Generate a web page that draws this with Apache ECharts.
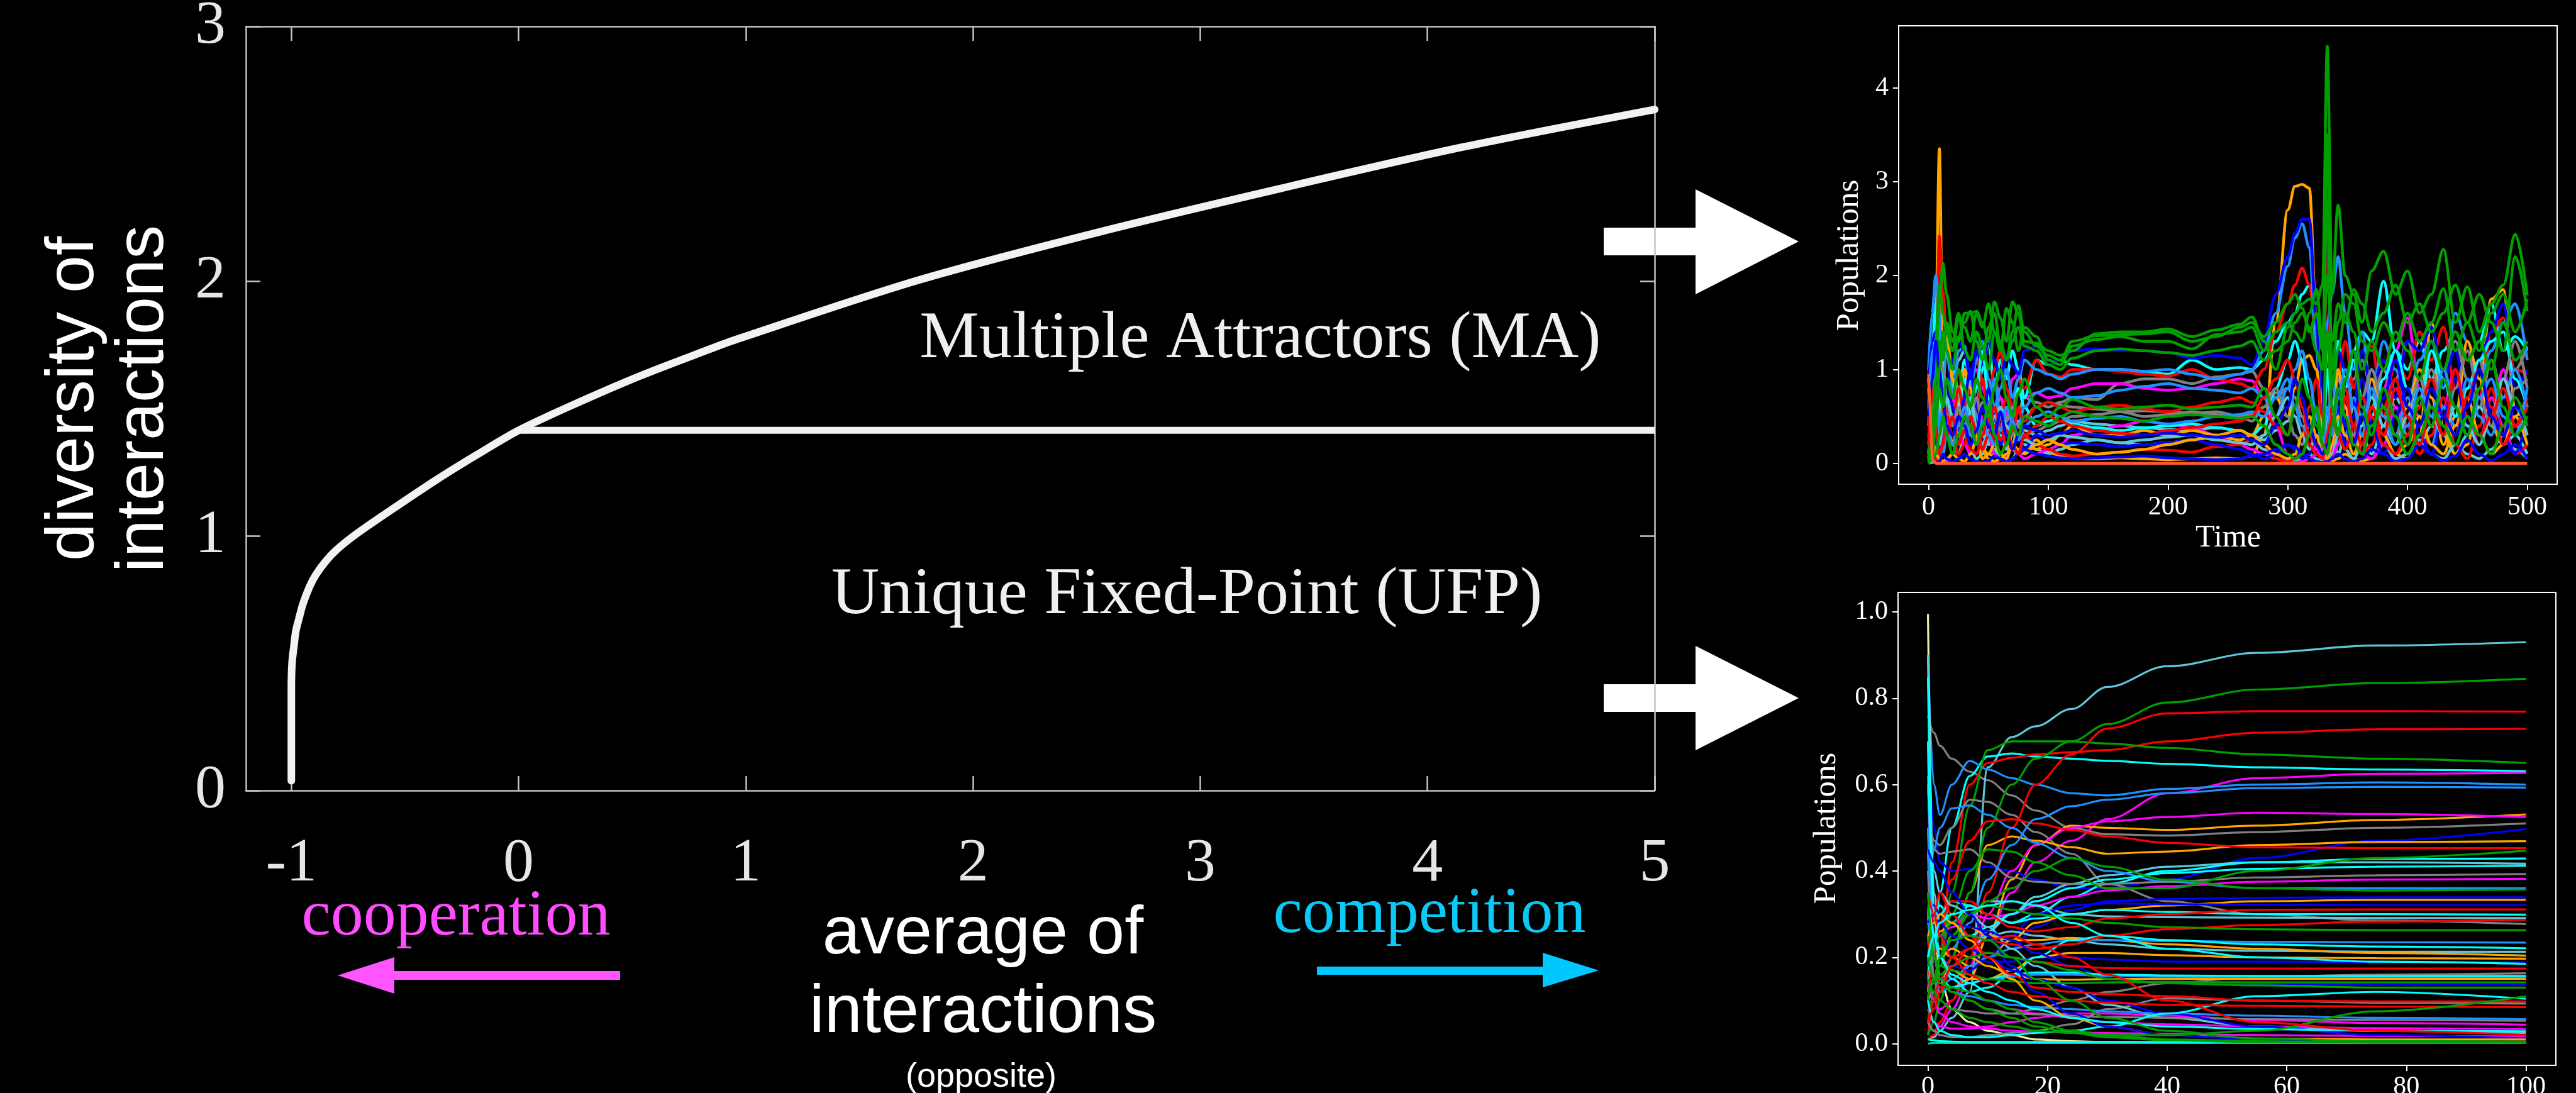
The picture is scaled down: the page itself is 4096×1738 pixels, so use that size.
<!DOCTYPE html>
<html>
<head>
<meta charset="utf-8">
<script src="https://cdn.jsdelivr.net/npm/echarts@6/dist/echarts.min.js"></script>
<style>
  html, body { margin: 0; padding: 0; background: #000; }
  #chart { width: 4096px; height: 1738px; }
</style>
</head>
<body>
<div id="chart"></div>
<script>
// ---------- main phase diagram ----------
var mainX = [-1, -1, -0.997, -0.988, -0.98, -0.965, -0.95, -0.92, -0.891, -0.846, -0.802, -0.743, -0.683, -0.55, -0.358, -0.18, 0, 0.234, 0.53, 0.827, 0.958, 1.757, 2.556, 3.355, 4.154, 5];
var mainY = [0.038, 0.40, 0.50, 0.572, 0.627, 0.68, 0.73, 0.8, 0.849, 0.903, 0.944, 0.988, 1.027, 1.108, 1.222, 1.32, 1.414, 1.512, 1.626, 1.728, 1.771, 2.003, 2.193, 2.364, 2.526, 2.674];
var ufpX = [0, 5];
var ufpY = [1.414, 1.414];
var mainXTicks = [-1, 0, 1, 2, 3, 4, 5];
var mainYTicks = [0, 1, 2, 3];

// ---------- top right: chaotic dynamics ----------
var topTime = [0, 3, 6, 9, 12, 15, 20, 25, 30, 35, 40, 45, 50, 55, 60, 65, 70, 75, 80, 90,
  100, 110, 120, 140, 160, 180, 200, 220, 240, 260, 270, 280, 290, 300, 306, 312, 318, 324, 329, 333,
  337, 342, 348, 355, 362, 370, 380, 390, 400, 410, 420, 430, 440, 450, 460, 470, 480, 490, 500];
var topXTicks = [0, 100, 200, 300, 400, 500];
var topYTicks = [0, 1, 2, 3, 4];

var topGreen = [
  [0.05,0.3,1.0,1.7,2.13,1.8,1.4,1.3,1.6,1.6, 1.62,1.5,1.3,1.72,1.55,1.3,1.72,1.6,1.3,1.28, 1.2,1.15,1.2,1.38,1.4,1.4,1.43,1.35,1.42,1.48, 1.56,1.3,1.0,1.45,1.6,1.7,1.75,1.7,1.9,4.44, 1.8,2.75,2.0,1.8,1.5,2.05,2.26,1.8,2.05,1.6, 1.8,2.28,1.5,1.88,1.4,1.7,1.9,2.44,1.79],
  [0.1,0.6,1.3,1.9,1.6,1.4,1.2,1.55,1.45,1.3, 1.6,1.45,1.7,1.4,1.2,1.65,1.5,1.2,1.45,1.35, 1.1,1.05,1.25,1.32,1.35,1.3,1.3,1.22,1.37,1.4, 1.45,1.2,1.4,1.5,1.4,1.3,1.6,1.85,1.3,2.8, 1.0,1.5,1.8,1.7,1.3,1.2,1.5,1.3,1.6,1.3, 1.5,1.86,1.2,1.5,1.8,1.5,1.2,2.2,1.62],
  [0.05,0.4,0.9,1.3,1.1,1.5,1.3,1.6,1.2,1.1, 1.4,1.25,1.0,1.4,1.3,1.1,1.3,1.45,1.25,1.2, 1.05,1.0,1.12,1.2,1.22,1.2,1.18,1.15,1.2,1.25, 1.3,1.1,1.2,1.3,1.5,1.6,1.45,1.2,1.0,3.5, 0.8,1.2,1.6,1.4,1.0,1.3,1.0,1.4,1.2,0.9, 1.3,1.0,1.4,1.1,1.3,1.0,1.5,1.1,1.3],
  [0.02,0.2,0.5,0.8,0.6,0.9,0.7,1.0,0.8,0.6, 0.9,0.7,0.5,0.8,1.0,0.7,0.5,0.75,0.9,0.6, 0.5,0.6,0.68,0.6,0.58,0.6,0.62,0.58,0.6,0.62, 0.6,0.8,0.5,0.3,0.6,0.9,0.7,0.4,0.3,1.4, 0.6,0.3,0.9,1.2,0.6,0.3,0.8,0.5,0.2,0.7, 0.4,0.9,0.6,0.3,0.8,1.1,0.6,0.3,0.5],
  [0.0,0.05,0.1,0.3,0.5,0.3,0.1,0.3,0.5,0.4, 0.2,0.4,0.6,0.3,0.1,0.2,0.4,0.3,0.5,0.45, 0.4,0.5,0.55,0.5,0.48,0.45,0.5,0.52,0.5,0.48, 0.5,0.4,0.2,0.1,0.05,0.1,0.3,0.6,0.2,0.1, 0.4,0.8,0.5,0.2,0.1,0.4,0.6,0.3,0.1,0.3, 0.6,0.4,0.2,0.5,0.3,0.1,0.4,0.7,0.4],
  [0.02,0.1,0.4,1.0,1.4,1.2,1.0,1.35,1.5,1.62, 1.3,1.1,1.45,1.6,1.25,1.1,1.4,1.68,1.4,1.25, 1.15,1.1,1.3,1.36,1.37,1.38,1.4,1.3,1.35,1.45, 1.5,1.35,1.5,1.7,1.8,1.65,1.4,1.6,1.2,2.0, 1.3,1.7,1.5,1.85,1.7,1.4,1.6,1.9,1.5,1.7, 1.4,1.6,1.9,1.5,1.2,1.6,1.8,1.4,1.75]
];
var topBlue = [
  [0.8,1.3,1.4,0.8,0.4,0.8,1.1,1.3,1.2,0.9, 1.2,1.05,1.3,1.1,0.9,1.15,1.05,0.95,1.2,1.25, 1.05,1.1,1.2,1.22,1.2,1.2,1.18,1.12,1.15,1.12, 1.05,1.3,1.8,2.2,2.45,2.6,2.6,1.5,0.2,3.5, 0.3,1.2,1.0,0.6,1.2,0.8,1.1,0.7,1.3,1.2, 1.45,0.9,1.2,0.6,1.1,1.4,1.7,0.8,1.0],
  [0.3,0.7,0.2,0.1,0.5,0.9,0.6,0.3,0.7,1.0, 0.6,0.4,0.8,0.5,0.2,0.4,0.6,0.3,0.15,0.3, 0.25,0.2,0.22,0.2,0.18,0.2,0.22,0.25,0.2,0.15, 0.1,0.05,0.1,0.2,0.15,0.05,0.1,0.3,0.1,0.05, 0.3,0.6,0.2,0.5,0.9,0.4,0.1,0.5,0.8,0.3, 0.1,0.5,0.9,0.4,0.2,0.6,0.3,0.1,0.5],
  [0.2,0.05,0.01,0.02,0.1,0.05,0.02,0.05,0.1,0.05, 0.02,0.01,0.03,0.08,0.05,0.02,0.05,0.1,0.15,0.1, 0.08,0.06,0.05,0.06,0.07,0.08,0.06,0.05,0.04,0.05, 0.08,0.1,0.15,0.2,0.18,0.1,0.05,0.02,0.01,0.02, 0.05,0.1,0.05,0.02,0.05,0.15,0.1,0.02,0.05,0.2, 0.1,0.03,0.08,0.25,0.1,0.03,0.1,0.2,0.05],
  [0.5,0.9,1.3,1.0,0.7,0.4,0.3,0.5,0.4,0.2, 0.35,0.6,0.4,0.3,0.55,0.3,0.15,0.3,0.4,0.35, 0.3,0.32,0.35,0.3,0.28,0.3,0.32,0.3,0.28,0.3, 0.25,0.2,0.4,0.6,0.9,0.7,0.4,0.2,0.1,0.2, 0.4,0.8,0.4,0.2,0.5,0.3,0.7,1.1,0.6,0.4, 0.8,0.5,0.3,0.6,1.0,0.5,0.3,0.6,0.4]
];
var topDodger = [
  [1.0,1.6,2.0,1.6,0.8,1.3,0.7,1.2,1.25,0.8, 1.1,1.3,0.9,0.6,0.8,1.0,0.7,0.9,1.1,1.0, 0.95,0.9,0.95,1.0,1.0,0.98,1.0,0.95,0.9,0.95, 1.0,1.2,1.6,2.1,2.4,2.55,2.3,1.2,0.3,1.5, 1.8,2.2,1.6,1.0,1.4,0.7,1.3,1.0,0.6,1.1, 1.3,0.8,1.6,1.3,0.9,1.2,1.5,1.7,1.1],
  [0.1,0.3,0.6,0.3,0.1,0.3,0.5,0.2,0.4,0.7, 0.5,0.3,0.6,0.9,0.5,0.3,0.5,0.4,0.6,0.75, 0.8,0.75,0.7,0.72,0.78,0.82,0.85,0.8,0.78,0.75, 0.8,0.7,0.5,0.8,1.0,1.2,0.9,0.5,0.2,0.3, 0.9,0.5,0.3,0.7,0.5,1.0,0.6,0.3,0.7,0.5, 0.2,0.6,0.4,0.9,0.5,0.3,0.7,1.0,0.6],
  [0.6,1.2,0.8,0.4,0.6,0.4,0.2,0.4,0.6,0.3, 0.2,0.45,0.3,0.2,0.35,0.6,0.45,0.25,0.4,0.5, 0.55,0.5,0.45,0.48,0.5,0.45,0.42,0.45,0.5,0.52, 0.55,0.5,0.7,0.9,0.6,0.4,0.3,0.5,0.2,0.6, 0.3,0.7,1.0,0.6,0.3,0.8,0.5,0.2,0.4,0.8, 0.5,1.0,0.6,0.3,0.7,0.9,0.5,0.3,0.8]
];
var topRed = [
  [1.0,0.6,1.0,2.42,1.8,1.4,0.9,1.0,0.6,0.8, 1.1,0.9,0.7,1.0,1.2,0.8,0.6,0.9,0.8,1.1, 0.95,0.92,1.0,1.0,0.98,0.95,0.93,1.0,0.9,0.85, 0.8,1.0,1.4,1.7,1.9,2.08,1.9,1.3,0.2,2.48, 0.4,0.9,1.3,0.8,1.2,1.25,0.5,1.1,0.9,1.4, 1.1,1.45,0.8,1.2,0.7,1.4,1.55,1.0,0.95],
  [0.5,0.2,0.05,0.02,0.3,0.6,0.4,0.8,0.5,0.3, 0.6,0.9,0.5,0.2,0.5,0.7,0.4,0.6,0.3,0.2, 0.15,0.1,0.08,0.1,0.12,0.15,0.14,0.12,0.18,0.2, 0.25,0.2,0.05,0.02,0.05,0.3,0.6,0.9,0.5,0.1, 0.2,0.5,0.8,0.4,0.1,0.2,0.6,0.9,0.4,0.1, 0.3,0.7,0.2,0.05,0.4,0.8,0.3,0.1,0.2],
  [0.2,0.8,0.4,0.1,0.2,0.5,0.3,0.1,0.2,0.5, 0.35,0.15,0.3,0.6,0.4,0.2,0.35,0.55,0.45,0.6, 0.65,0.6,0.55,0.6,0.62,0.58,0.55,0.6,0.65,0.7, 0.65,0.55,0.4,0.3,0.6,0.4,0.2,0.1,0.05,0.3, 0.6,0.3,0.15,0.4,0.7,0.5,0.2,0.1,0.3,0.6, 0.9,0.5,0.3,0.7,1.0,0.6,0.2,0.4,0.7],
  [0.3,0.1,0.5,0.9,0.6,0.3,0.5,0.2,0.35,0.15, 0.1,0.3,0.55,0.4,0.25,0.35,0.2,0.1,0.3,0.4, 0.5,0.45,0.4,0.35,0.32,0.3,0.35,0.38,0.42,0.45, 0.5,0.7,0.9,1.1,0.9,0.6,0.3,0.2,0.1,0.2, 0.5,0.3,0.7,0.4,0.2,0.6,0.3,0.8,0.5,0.2, 0.6,0.3,1.0,0.5,0.3,0.5,0.8,0.4,0.6]
];
var topCyan = [
  [0.4,1.2,1.7,1.3,0.9,1.3,1.0,0.7,1.1,0.9, 0.6,1.0,1.3,0.8,1.1,0.9,1.2,1.0,0.7,1.1, 1.05,1.1,1.05,1.0,1.0,0.98,0.95,1.1,1.0,1.02, 1.0,1.1,1.3,1.5,1.6,1.8,1.9,1.5,0.4,1.2, 1.0,1.3,0.9,1.2,1.4,1.3,1.94,1.2,1.0,1.3, 0.9,1.2,1.4,1.1,1.3,1.7,1.2,1.35,1.2],
  [0.1,0.5,0.2,0.6,1.0,0.7,0.4,0.6,0.9,0.5, 0.8,1.2,0.7,0.4,0.6,0.3,0.5,0.8,0.6,0.4, 0.45,0.5,0.42,0.38,0.35,0.38,0.4,0.42,0.38,0.35, 0.3,0.4,0.8,1.1,1.3,1.1,0.7,0.5,0.2,1.0, 0.6,0.4,0.8,1.1,0.7,0.5,0.9,1.2,0.8,0.6, 1.2,0.9,0.5,0.8,1.1,1.3,1.4,0.9,0.6]
];
var topMagenta = [
  [0.6,0.2,0.05,0.1,0.3,0.5,0.7,0.4,0.6,0.9, 1.0,0.8,0.6,0.9,0.7,0.5,0.9,0.95,0.7,0.75, 0.7,0.72,0.8,0.85,0.85,0.8,0.78,0.8,0.85,0.9, 0.88,0.7,0.4,0.1,0.05,0.1,0.3,0.15,0.05,3.44, 0.1,0.3,0.6,0.3,0.1,0.5,0.8,1.2,1.55,0.8, 0.4,0.9,0.6,0.3,0.7,0.5,1.0,0.4,0.3],
  [0.3,0.1,0.02,0.01,0.01,0.02,0.1,0.3,0.2,0.1, 0.3,0.5,0.3,0.1,0.05,0.1,0.2,0.1,0.05,0.1, 0.15,0.2,0.3,0.35,0.4,0.45,0.42,0.38,0.3,0.2, 0.15,0.1,0.05,0.02,0.01,0.02,0.05,0.1,0.05,0.02, 0.05,0.2,0.5,0.3,0.1,0.05,0.2,0.6,0.4,0.1, 0.3,0.6,1.0,0.5,0.2,0.7,0.4,0.1,0.2]
];
var topGray = [
  [0.1,0.3,0.6,0.9,1.1,1.15,1.0,0.8,0.6,0.7, 0.5,0.65,0.6,0.55,0.7,0.5,0.6,0.55,0.7,0.65, 0.6,0.65,0.7,0.68,0.85,0.9,0.9,0.85,0.92,0.95, 0.98,0.8,0.7,0.8,0.7,0.5,0.3,0.2,0.1,1.0, 0.4,0.2,0.5,0.9,1.1,0.8,0.4,0.9,1.3,0.9, 0.5,1.0,1.3,0.9,0.6,1.1,0.7,1.0,1.25],
  [0.05,0.1,0.3,0.5,0.8,0.6,0.5,0.7,0.5,0.4, 0.55,0.6,0.45,0.35,0.4,0.5,0.3,0.4,0.5,0.6, 0.65,0.62,0.6,0.58,0.55,0.5,0.52,0.55,0.52,0.5, 0.45,0.6,0.75,0.8,0.7,0.5,0.3,0.6,0.2,0.1, 0.5,0.9,0.7,0.4,0.2,0.6,1.0,0.6,0.3,0.7, 1.0,0.6,0.3,0.8,1.1,0.5,0.3,0.8,0.9],
  [0.2,0.5,0.9,1.2,1.0,0.7,0.4,0.6,0.3,0.5, 0.7,0.4,0.3,0.5,0.35,0.45,0.6,0.4,0.3,0.35, 0.4,0.45,0.5,0.52,0.55,0.56,0.55,0.53,0.55,0.5, 0.52,0.6,0.8,0.5,0.3,0.2,0.4,0.6,0.3,0.2, 0.6,0.8,0.5,0.3,0.7,1.0,0.6,0.3,0.5,0.9, 0.6,0.3,0.8,1.2,0.7,0.4,0.9,1.3,0.8]
];
var topTeal = [
  [0.02,0.05,0.1,0.4,0.9,1.2,0.8,1.1,1.2,0.9, 0.5,0.3,0.2,0.4,0.3,0.15,0.3,0.45,0.35,0.3, 0.35,0.4,0.45,0.42,0.4,0.38,0.36,0.35,0.38,0.35, 0.3,0.25,0.35,0.45,0.6,0.5,0.3,0.2,0.1,0.5, 0.3,0.1,0.3,0.6,0.3,0.1,0.4,0.7,0.5,0.2, 0.4,0.3,0.1,0.3,0.6,0.4,0.2,0.3,0.1],
  [0.0,0.01,0.02,0.05,0.2,0.4,0.2,0.1,0.3,0.15, 0.05,0.1,0.25,0.15,0.05,0.02,0.05,0.15,0.2,0.15, 0.1,0.15,0.2,0.25,0.22,0.2,0.22,0.25,0.28,0.3, 0.25,0.15,0.1,0.05,0.02,0.05,0.1,0.05,0.02,0.05, 0.1,0.3,0.15,0.05,0.2,0.4,0.2,0.05,0.1,0.25, 0.1,0.05,0.2,0.1,0.05,0.15,0.3,0.15,0.05],
  [0.9,0.6,0.4,0.2,0.4,0.7,0.5,0.3,0.5,0.7, 0.4,0.2,0.35,0.5,0.6,0.4,0.2,0.3,0.25,0.2, 0.25,0.3,0.28,0.25,0.22,0.25,0.28,0.3,0.25,0.22, 0.2,0.3,0.5,0.7,0.5,0.3,0.15,0.3,0.1,0.3, 0.6,0.8,0.4,0.2,0.4,0.7,0.4,0.2,0.5,0.8, 0.5,0.3,0.6,0.4,0.2,0.5,0.9,0.6,0.3]
];
var topOrange = [
  [1.0,1.1,1.5,3.35,1.0,0.5,0.2,0.6,1.0,0.5, 0.3,0.15,0.1,0.08,0.1,0.2,0.15,0.1,0.12,0.25, 0.12,0.08,0.05,0.05,0.06,0.05,0.04,0.05,0.06,0.05, 0.08,0.3,1.5,2.7,2.95,2.97,2.93,1.5,0.4,0.05, 0.03,0.05,0.1,0.05,0.03,0.05,0.2,0.1,0.05,0.3, 1.5,0.4,0.1,0.2,0.8,1.75,1.85,0.6,0.3],
  [0.9,0.4,0.2,0.1,1.1,1.4,0.9,0.6,1.0,0.8, 0.3,0.05,0.1,0.2,0.1,0.05,0.2,0.4,0.3,0.15, 0.2,0.3,0.4,0.3,0.3,0.35,0.3,0.35,0.3,0.25, 0.3,0.5,0.7,0.5,0.8,1.1,1.15,1.0,0.4,0.1, 0.5,1.0,0.6,0.2,0.4,0.9,0.5,0.3,0.6,1.0, 0.7,0.2,0.5,1.3,0.9,0.4,0.2,0.5,0.7],
  [0.8,0.3,0.1,0.05,0.02,0.05,0.1,0.05,0.02,0.1, 0.25,0.15,0.05,0.02,0.05,0.1,0.2,0.15,0.1,0.2, 0.25,0.2,0.15,0.1,0.12,0.15,0.2,0.25,0.3,0.35, 0.3,0.2,0.1,0.05,0.1,0.3,0.5,0.3,0.1,0.05, 0.2,0.5,0.3,0.1,0.3,0.6,0.3,0.1,0.2,0.5, 0.2,0.1,0.4,0.7,0.3,0.1,0.2,0.5,0.2]
];
var topZeroT = [0, 3, 6, 500];
var topZeroY = [0.95, 0.05, 0.0, 0.0];

// ---------- bottom right: convergence to a fixed point ----------
var botTime = [0, 1, 2, 4, 7, 10, 14, 18, 24, 30, 40, 55, 75, 100];
var botXTicks = [0, 20, 40, 60, 80, 100];
var botYTicks = [0, 0.2, 0.4, 0.6, 0.8, 1.0];

var botTeal = [
  [0.01,0.015,0.03,0.06,0.12,0.64,0.71,0.735,0.775,0.826,0.874,0.905,0.922,0.93],
  [0.9,0.35,0.25,0.2,0.22,0.26,0.3,0.34,0.37,0.39,0.41,0.42,0.42,0.417],
  [0.45,0.25,0.2,0.25,0.3,0.33,0.33,0.32,0.3,0.295,0.293,0.292,0.291,0.291],
  [0.1,0.12,0.15,0.18,0.22,0.25,0.26,0.25,0.24,0.23,0.22,0.215,0.213,0.213],
  [0.6,0.4,0.35,0.32,0.3,0.27,0.22,0.18,0.13,0.09,0.06,0.04,0.03,0.025]
];
var botGreen = [
  [0.05,0.1,0.2,0.35,0.55,0.68,0.7,0.7,0.7,0.695,0.685,0.67,0.66,0.65],
  [0.02,0.05,0.1,0.2,0.35,0.5,0.6,0.66,0.7,0.74,0.79,0.82,0.835,0.845],
  [0.1,0.15,0.2,0.3,0.4,0.45,0.445,0.42,0.39,0.36,0.36,0.4,0.43,0.447],
  [0.05,0.12,0.18,0.25,0.3,0.33,0.36,0.4,0.43,0.41,0.38,0.36,0.355,0.357],
  [0.18,0.22,0.25,0.28,0.3,0.32,0.31,0.3,0.29,0.28,0.27,0.265,0.263,0.263],
  [0.25,0.2,0.18,0.17,0.16,0.15,0.145,0.14,0.14,0.142,0.143,0.142,0.142,0.142],
  [0.12,0.14,0.16,0.18,0.2,0.21,0.2,0.19,0.17,0.15,0.14,0.135,0.13,0.13],
  [0.15,0.12,0.1,0.08,0.06,0.05,0.04,0.03,0.025,0.02,0.02,0.03,0.075,0.11],
  [0.35,0.2,0.15,0.12,0.1,0.08,0.06,0.04,0.025,0.015,0.008,0.004,0.003,0.003],
  [0.2,0.15,0.14,0.13,0.12,0.1,0.08,0.05,0.03,0.02,0.01,0.006,0.004,0.004],
  [0.1,0.15,0.2,0.24,0.25,0.24,0.2,0.15,0.1,0.06,0.03,0.012,0.006,0.005]
];
var botRed = [
  [0.02,0.1,0.22,0.42,0.6,0.65,0.662,0.67,0.675,0.68,0.7,0.72,0.728,0.729],
  [0.01,0.02,0.05,0.1,0.2,0.35,0.5,0.6,0.67,0.73,0.765,0.77,0.77,0.769],
  [0.15,0.2,0.28,0.38,0.47,0.515,0.52,0.51,0.495,0.48,0.465,0.455,0.453,0.453],
  [0.1,0.2,0.28,0.33,0.33,0.3,0.27,0.26,0.27,0.29,0.3,0.31,0.311,0.311],
  [0.15,0.12,0.13,0.18,0.22,0.24,0.23,0.22,0.23,0.25,0.265,0.275,0.283,0.287],
  [0.05,0.1,0.15,0.2,0.22,0.21,0.2,0.19,0.18,0.175,0.174,0.174,0.174,0.174],
  [0.2,0.3,0.35,0.3,0.25,0.2,0.16,0.13,0.12,0.115,0.11,0.1,0.098,0.098],
  [0.35,0.3,0.25,0.2,0.16,0.14,0.12,0.11,0.1,0.095,0.09,0.088,0.086,0.085],
  [0.05,0.08,0.12,0.18,0.22,0.24,0.25,0.23,0.2,0.16,0.1,0.05,0.03,0.02]
];
var botCyan = [
  [0.1,0.2,0.35,0.5,0.62,0.665,0.672,0.665,0.66,0.655,0.648,0.64,0.635,0.631],
  [0.5,0.3,0.25,0.28,0.32,0.3,0.28,0.3,0.34,0.37,0.4,0.42,0.428,0.429],
  [0.15,0.3,0.32,0.28,0.25,0.27,0.3,0.33,0.36,0.38,0.395,0.405,0.41,0.412],
  [0.12,0.22,0.3,0.33,0.32,0.3,0.28,0.29,0.3,0.31,0.305,0.3,0.3,0.299],
  [0.85,0.3,0.2,0.15,0.12,0.13,0.16,0.2,0.24,0.25,0.24,0.23,0.225,0.221],
  [0.7,0.2,0.15,0.13,0.14,0.15,0.16,0.165,0.165,0.16,0.158,0.157,0.157,0.157],
  [0.1,0.05,0.03,0.02,0.015,0.015,0.02,0.025,0.03,0.04,0.07,0.11,0.12,0.104],
  [0.35,0.25,0.2,0.16,0.14,0.12,0.1,0.08,0.06,0.05,0.04,0.034,0.03,0.029],
  [0.01,0.008,0.006,0.005,0.004,0.004,0.004,0.004,0.004,0.004,0.004,0.004,0.004,0.004],
  [0.2,0.25,0.28,0.3,0.31,0.32,0.33,0.32,0.28,0.25,0.22,0.2,0.19,0.185]
];
var botMagenta = [
  [0.05,0.03,0.04,0.08,0.15,0.25,0.35,0.42,0.47,0.52,0.58,0.615,0.625,0.627],
  [0.2,0.1,0.08,0.1,0.18,0.3,0.4,0.46,0.5,0.515,0.525,0.535,0.532,0.525],
  [0.6,0.3,0.25,0.27,0.3,0.29,0.3,0.32,0.34,0.355,0.365,0.375,0.38,0.382],
  [0.08,0.05,0.04,0.035,0.035,0.04,0.05,0.06,0.07,0.07,0.065,0.055,0.048,0.044],
  [0.62,0.3,0.2,0.15,0.12,0.1,0.08,0.07,0.06,0.05,0.045,0.04,0.036,0.034],
  [0.15,0.1,0.07,0.05,0.04,0.035,0.03,0.028,0.026,0.025,0.023,0.02,0.018,0.017]
];
var botOrange = [
  [0.3,0.2,0.15,0.13,0.15,0.25,0.38,0.46,0.505,0.5,0.495,0.505,0.518,0.531],
  [0.25,0.15,0.12,0.2,0.35,0.46,0.48,0.47,0.455,0.44,0.445,0.46,0.467,0.469],
  [0.28,0.25,0.22,0.2,0.18,0.2,0.24,0.28,0.3,0.31,0.32,0.33,0.333,0.333],
  [0.2,0.22,0.26,0.28,0.27,0.25,0.24,0.24,0.245,0.24,0.23,0.22,0.21,0.204],
  [0.3,0.25,0.2,0.17,0.15,0.15,0.17,0.2,0.21,0.21,0.205,0.2,0.198,0.197],
  [0.1,0.15,0.2,0.22,0.2,0.18,0.16,0.15,0.148,0.15,0.15,0.15,0.15,0.15],
  [0.25,0.28,0.3,0.28,0.24,0.2,0.15,0.1,0.06,0.04,0.02,0.012,0.01,0.01]
];
var botBlue = [
  [0.7,0.5,0.42,0.4,0.405,0.41,0.4,0.38,0.36,0.36,0.38,0.43,0.47,0.497],
  [0.4,0.3,0.28,0.25,0.22,0.2,0.22,0.27,0.31,0.33,0.335,0.338,0.339,0.339],
  [0.3,0.25,0.2,0.18,0.17,0.2,0.25,0.3,0.32,0.325,0.323,0.322,0.321,0.321],
  [0.55,0.3,0.25,0.22,0.2,0.19,0.19,0.2,0.2,0.195,0.19,0.19,0.189,0.189],
  [0.35,0.32,0.3,0.28,0.27,0.26,0.24,0.21,0.18,0.15,0.14,0.137,0.136,0.136],
  [0.28,0.3,0.28,0.25,0.22,0.2,0.17,0.15,0.13,0.1,0.07,0.04,0.02,0.012],
  [0.45,0.42,0.4,0.35,0.3,0.25,0.18,0.12,0.07,0.04,0.02,0.01,0.005,0.003]
];
var botDodger = [
  [0.9,0.6,0.53,0.6,0.655,0.635,0.615,0.6,0.58,0.575,0.59,0.6,0.605,0.6],
  [0.3,0.45,0.5,0.545,0.552,0.53,0.5,0.465,0.43,0.4,0.375,0.36,0.36,0.36],
  [0.4,0.3,0.25,0.22,0.28,0.38,0.46,0.52,0.55,0.565,0.58,0.592,0.595,0.593],
  [0.2,0.15,0.13,0.15,0.18,0.2,0.22,0.23,0.24,0.24,0.238,0.236,0.235,0.234],
  [0.3,0.15,0.12,0.13,0.14,0.15,0.155,0.16,0.16,0.157,0.155,0.154,0.153,0.153],
  [0.5,0.2,0.15,0.12,0.11,0.1,0.09,0.085,0.08,0.075,0.07,0.065,0.06,0.057]
];
var botGray = [
  [0.76,0.72,0.69,0.66,0.63,0.61,0.575,0.54,0.5,0.485,0.482,0.49,0.5,0.51],
  [0.55,0.47,0.46,0.5,0.565,0.56,0.53,0.49,0.44,0.37,0.33,0.3,0.285,0.277],
  [0.6,0.45,0.44,0.445,0.45,0.42,0.385,0.375,0.37,0.37,0.375,0.385,0.39,0.393],
  [0.4,0.2,0.15,0.12,0.1,0.08,0.07,0.08,0.1,0.12,0.14,0.155,0.16,0.163],
  [0.05,0.03,0.02,0.015,0.015,0.02,0.025,0.03,0.045,0.08,0.105,0.1,0.095,0.093],
  [0.45,0.15,0.1,0.08,0.075,0.07,0.07,0.068,0.065,0.062,0.06,0.057,0.055,0.053]
];
var botPale = [[0.995,0.3,0.15,0.08,0.05,0.03,0.02,0.01,0.006,0.004,0.003,0.002,0.002,0.002]];
var botSpring = [[0.0,0.002,0.002,0.002,0.002,0.002,0.002,0.002,0.002,0.002,0.002,0.002,0.002,0.002]];

// ---------- styling ----------
var SERIF = "'Liberation Serif', 'DejaVu Serif', serif";
var SANS = "'Liberation Sans', Arial, 'DejaVu Sans', sans-serif";
var COL = {
  blue: '#0000ff', green: '#00a000', red: '#ff0000', cyan: '#00ffff', magenta: '#ff00ff',
  orange: '#ffa500', gray: '#808080', dodger: '#1e90ff', teal: '#5ec8d8', pale: '#e4f0a8',
  zero: '#ff5a28', spring: '#00d27a'
};

var series = [];

series.push({
  type: 'line', xAxisIndex: 0, yAxisIndex: 0,
  data: mainX.map(function (x, i) { return [x, mainY[i]]; }),
  showSymbol: false, smooth: 0.3, clip: false, silent: true,
  lineStyle: { color: '#f2f2f2', width: 12, cap: 'round' }
});
series.push({
  type: 'line', xAxisIndex: 0, yAxisIndex: 0,
  data: ufpX.map(function (x, i) { return [x, ufpY[i]]; }),
  showSymbol: false, clip: false, silent: true,
  lineStyle: { color: '#f2f2f2', width: 11 }
});

// interleave colour groups so no colour ends up all on top
function addGroups(groups, times, axisIndex, width) {
  var maxLen = 0;
  groups.forEach(function (g) { maxLen = Math.max(maxLen, g[0].length); });
  for (var i = 0; i < maxLen; i++) {
    groups.forEach(function (g) {
      var row = g[0][i];
      if (!row) return;
      series.push({
        type: 'line', xAxisIndex: axisIndex, yAxisIndex: axisIndex,
        data: times.map(function (t, k) { return [t, row[k]]; }),
        showSymbol: false, smooth: 0.35, smoothMonotone: 'x', silent: true,
        lineStyle: { color: g[1], width: width }
      });
    });
  }
}

addGroups([
  [topGray, COL.gray], [topTeal, COL.teal], [topMagenta, COL.magenta], [topOrange, COL.orange],
  [topCyan, COL.cyan], [topRed, COL.red], [topDodger, COL.dodger], [topBlue, COL.blue], [topGreen, COL.green]
], topTime, 2, 4.5);
series.push({
  type: 'line', xAxisIndex: 2, yAxisIndex: 2,
  data: topZeroT.map(function (t, i) { return [t, topZeroY[i]]; }),
  showSymbol: false, silent: true, lineStyle: { color: COL.zero, width: 4.5 }
});

addGroups([
  [botGray, COL.gray], [botTeal, COL.teal], [botMagenta, COL.magenta], [botOrange, COL.orange],
  [botCyan, COL.cyan], [botRed, COL.red], [botDodger, COL.dodger], [botBlue, COL.blue],
  [botGreen, COL.green], [botPale, COL.pale], [botSpring, COL.spring]
], botTime, 3, 3.2);

// axis helpers
function mainAxis(pos, ticks, labels, extra) {
  var a = {
    type: 'value', gridIndex: 0, position: pos,
    splitLine: { show: false },
    axisLine: { show: true, onZero: false, lineStyle: { color: '#c4c4c4', width: 2.5 } },
    axisTick: { show: true, inside: true, length: 23, customValues: ticks, lineStyle: { color: '#c4c4c4', width: 2.5 } },
    axisLabel: { show: labels, customValues: ticks, color: '#e6e6e6', fontFamily: SERIF }
  };
  for (var k in extra) a[k] = extra[k];
  return a;
}
function subAxis(grid, pos, min, max, ticks, fmt, margin) {
  return {
    type: 'value', gridIndex: grid, position: pos, min: min, max: max,
    splitLine: { show: false },
    axisLine: { show: false, onZero: false },
    axisTick: { show: true, inside: false, length: 9, customValues: ticks, lineStyle: { color: '#ffffff', width: 2 } },
    axisLabel: { show: true, customValues: ticks, formatter: fmt, color: '#ffffff', fontFamily: SERIF, fontSize: 42, margin: margin }
  };
}
function intFmt(v) { return String(Math.round(v)); }
function oneDec(v) { return v.toFixed(1); }

var xMain = mainAxis('bottom', mainXTicks, true, { min: -1.2, max: 5 });
xMain.axisLabel.fontSize = 98; xMain.axisLabel.margin = 68;
xMain.axisLabel.formatter = intFmt;
var xMainTop = mainAxis('top', mainXTicks, false, { min: -1.2, max: 5 });
var yMain = mainAxis('left', mainYTicks, true, { min: 0, max: 3 });
yMain.axisLabel.fontSize = 98; yMain.axisLabel.margin = 32;
var yMainRight = mainAxis('right', mainYTicks, false, { min: 0, max: 3 });

function arrow(points, color) {
  return { type: 'polygon', shape: { points: points }, style: { fill: color }, silent: true };
}
function label(text, x, y, size, family, color, rot) {
  return {
    type: 'text', x: x, y: y, rotation: rot || 0, silent: true,
    style: { text: text, fontSize: size, fontFamily: family, fill: color, align: 'center', verticalAlign: 'middle' }
  };
}

var option = {
  backgroundColor: '#000000',
  animation: false,
  grid: [
    { left: 391, top: 42, width: 2240, height: 1215, outerBoundsMode: 'none' },
    { left: 3019, top: 41, width: 1047, height: 729, show: true, borderColor: '#ffffff', borderWidth: 2, backgroundColor: 'transparent', outerBoundsMode: 'none' },
    { left: 3018, top: 942, width: 1046, height: 752, show: true, borderColor: '#ffffff', borderWidth: 2, backgroundColor: 'transparent', outerBoundsMode: 'none' }
  ],
  xAxis: [
    xMain, xMainTop,
    subAxis(1, 'bottom', -25, 525, topXTicks, intFmt, 16),
    subAxis(2, 'bottom', -5, 105, botXTicks, intFmt, 14)
  ],
  yAxis: [
    yMain, yMainRight,
    subAxis(1, 'left', -0.222, 4.66, topYTicks, intFmt, 16),
    subAxis(2, 'left', -0.05, 1.045, botYTicks, oneDec, 16)
  ],
  series: series,
  graphic: [
    label('Multiple Attractors (MA)', 2004, 540, 106, SERIF, '#f0f0f0'),
    label('Unique Fixed-Point (UFP)', 1887, 947, 106, SERIF, '#f0f0f0'),
    label('cooperation', 725, 1459, 104, SERIF, '#ff4cff'),
    label('competition', 2273, 1455, 104, SERIF, '#0cc8f5'),
    label('average of', 1563, 1486, 108, SANS, '#ffffff'),
    label('interactions', 1563, 1611, 108, SANS, '#ffffff'),
    label('(opposite)', 1560, 1713, 54, SANS, '#ffffff'),
    label('diversity of', 118, 634, 108, SANS, '#ffffff', Math.PI / 2),
    label('interactions', 229, 634, 108, SANS, '#ffffff', Math.PI / 2),
    label('Populations', 2941, 406, 51, SERIF, '#ffffff', Math.PI / 2),
    label('Time', 3543, 856, 50, SERIF, '#ffffff'),
    label('Populations', 2905, 1317, 51, SERIF, '#ffffff', Math.PI / 2),
    arrow([[2550, 362], [2696, 362], [2696, 301], [2860, 384], [2696, 468], [2696, 406], [2550, 406]], '#ffffff'),
    arrow([[2550, 1088], [2696, 1088], [2696, 1027], [2860, 1110], [2696, 1193], [2696, 1132], [2550, 1132]], '#ffffff'),
    arrow([[986, 1544], [627, 1544], [627, 1522], [537, 1551], [627, 1580], [627, 1558], [986, 1558]], '#ff55ff'),
    arrow([[2094, 1537], [2453, 1537], [2453, 1515], [2542, 1543], [2453, 1570], [2453, 1550], [2094, 1550]], '#00c8ff')
  ]
};

var chart = echarts.init(document.getElementById('chart'), null, { renderer: 'canvas' });
chart.setOption(option);
</script>
</body>
</html>
